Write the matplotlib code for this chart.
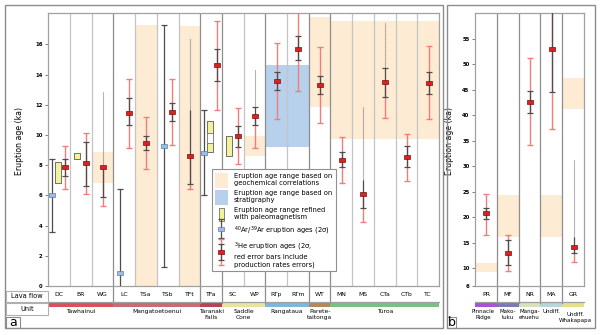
import numpy as np
import matplotlib
matplotlib.use('Agg')
import matplotlib.pyplot as plt
from matplotlib.patches import Rectangle, Patch
from matplotlib.path import Path
from matplotlib.legend_handler import HandlerErrorbar, HandlerPatch

nan = np.nan

# ---------------- panel a data
flows_a = ['DC', 'BR', 'WG', 'LC', 'TSa', 'TSb', 'TFt', 'TFa', 'SC', 'WP',
           'RTp', 'RTm', 'WT', 'MN', 'MS', 'CTa', 'CTb', 'TC']
unit_names_a = ['Tawhainui', 'Mangatoetoenui', 'Taranaki\nFalls', 'Saddle\nCone',
                'Rangataua', 'Parete-\ntaitonga', 'Turoa']
unit_sizes_a = [3, 4, 1, 2, 2, 1, 5]
unit_colors_a = ['#d9515d', '#c86b77', '#b44556', '#e8e49f', '#7db8d9', '#b08a5a', '#7cbf86']

# 3He ages: value, black 2s bar, red bar (with production rate errors), dotted extension
he_age_a = [7.86, 8.13, 7.86, 11.48, 9.45, 11.54, 8.6, 14.61, 9.91, 11.28,
            13.56, 15.72, 13.31, 8.34, 6.11, 13.53, 8.56, 13.42]
he_lo_a = [7.28, 6.6, 5.87, 10.64, 8.98, 10.93, 6.73, 13.6, 9.22, 10.66,
           12.98, 14.95, 12.7, 7.9, 5.16, 12.5, 7.86, 12.7]
he_hi_a = [8.43, 9.54, 7.86, 12.43, 9.95, 12.14, 11.65, 15.67, 10.57, 11.87,
           14.15, 16.54, 13.9, 8.85, 7.02, 14.42, 9.29, 14.15]
he_hicap_a = [1, 1, 0, 1, 1, 1, 0, 1, 1, 1, 1, 1, 1, 1, 0, 1, 1, 1]
he_rlo_a = [6.4, 6.1, 5.32, 9.12, 7.73, 9.31, 6.44, 11.66, 8.06, 9.12,
            11.06, 12.93, 10.77, 6.8, 4.22, 11.1, 6.97, 11.04]
he_rhi_a = [9.29, 10.15, nan, 13.73, 11.19, 13.73, nan, 17.57, 11.77, nan,
            16.07, 18.6, 15.85, 9.89, nan, nan, 10.05, 15.89]
he_dot_a = [nan, nan, 12.85, nan, nan, nan, 16.4, nan, nan, 14.35,
            nan, nan, nan, nan, 11.83, 17.44, nan, nan]

ar_flow_a = ['DC', 'LC', 'TSb', 'TFa']
ar_age_a = [6.03, 0.88, 9.27, 8.83]
ar_lo_a = [3.55, -4.6, 1.28, 6.03]
ar_hi_a = [8.39, 6.4, 17.28, 11.63]

pm_flow_a = ['DC', 'BR', 'TFa', 'TFa', 'SC']
pm_lo_a = [6.84, 8.44, 8.9, 10.13, 8.6]
pm_hi_a = [8.23, 8.79, 9.5, 10.9, 9.93]

geo_from_a = ['WG', 'TSa', 'TFt', 'WP', 'WT', 'MN']
geo_to_a = ['WG', 'TSa', 'TFt', 'WP', 'WT', 'TC']
geo_lo_a = [6.85, 0, 0, 8.6, 11.85, 9.71]
geo_hi_a = [8.85, 17.28, 17.24, 9.93, 17.8, 17.57]

strat_from_a = ['RTp']
strat_to_a = ['RTm']
strat_lo_a = [9.22]
strat_hi_a = [14.64]

# ---------------- panel b data
flows_b = ['PR', 'MF', 'NR', 'MA', 'GR']
unit_names_b = ['Pinnacle\nRidge', 'Mako-\ntuku', 'Manga-\nehuehu', 'Undiff.', 'Undiff.\nWhakapapa']
unit_sizes_b = [1, 1, 1, 1, 1]
unit_colors_b = ['#a852d6', '#7f79b1', '#d6e2be', '#b8d5da', '#e6e08d']

he_age_b = [20.76, 13.06, 42.6, 52.86, 14.2]
he_lo_b = [19.6, 10.59, 40.33, 44.56, 12.9]
he_hi_b = [21.86, 15.48, 44.75, 61.5, 16.2]
he_hicap_b = [1, 1, 1, 1, 0]
he_rlo_b = [16.58, 9.47, 34.07, 37.2, 11.27]
he_rhi_b = [24.48, 16.47, 51.2, 68.0, nan]
he_dot_b = [nan, nan, nan, nan, 31.2]

geo_from_b = ['PR', 'MF', 'MA', 'GR']
geo_to_b = ['PR', 'MF', 'MA', 'GR']
geo_lo_b = [9.33, 16.2, 16.2, 41.1]
geo_hi_b = [11.1, 24.3, 24.3, 47.3]

yticks_a = [0, 2, 4, 6, 8, 10, 12, 14, 16]
yticks_b = [6.5, 10, 15, 20, 25, 30, 35, 40, 45, 50, 55]
yticklabels_b = ['6', '10', '15', '20', '25', '30', '35', '40', '45', '50', '55']

# ---------------- styles
BEIGE = '#fdebd3'
STRAT = '#b7d0eb'
YEL = '#f2f29a'
RED_BAR = '#f27c7c'
BLK_BAR = '#4d4d4d'
GRID = '#c4c4c4'
BOUND = '#8e8e8e'
SPINE = '#a0a0a0'

rect_marker = Path([(-1.5, -1), (1.5, -1), (1.5, 1), (-1.5, 1), (-1.5, -1)],
                   [Path.MOVETO, Path.LINETO, Path.LINETO, Path.LINETO, Path.CLOSEPOLY])

W, H = 600, 335
fig = plt.figure(figsize=(6, 3.35), dpi=100)


def fx(px):
    return px / W


def fy(py):
    return 1 - py / H


def fig_box(x0, y0, x1, y1, **kw):
    fig.add_artist(Rectangle((fx(x0), fy(y1)), fx(x1) - fx(x0), fy(y0) - fy(y1),
                             transform=fig.transFigure, fill=False, **kw))


ax_a = fig.add_axes([fx(48.3), fy(286), fx(439) - fx(48.3), fy(13) - fy(286)])
ax_b = fig.add_axes([fx(475), fy(286), fx(584) - fx(475), fy(13) - fy(286)])

# fractions of axes height used by the table below the plot
ROW_Y = -0.031
ROW_BOT = -0.0575
BAND_TOP = -0.061
BAND_H = 0.017
NAME_Y = -0.083


def draw_panel(ax, flows, unit_names, unit_sizes, unit_colors,
               he_age, he_lo, he_hi, he_hicap, he_rlo, he_rhi, he_dot,
               ar_flow, ar_age, ar_lo, ar_hi, pm_flow, pm_lo, pm_hi,
               geo_from, geo_to, geo_lo, geo_hi,
               strat_from, strat_to, strat_lo, strat_hi,
               name_size=4.3, name_shift=None):
    n = len(flows)
    idx = {f: i for i, f in enumerate(flows)}
    tr = ax.get_xaxis_transform()
    if name_shift is None:
        name_shift = [(0, 0)] * len(unit_names)

    # slot positions inside each column (Ar, paleomag box, He)
    slots = {}
    for i, f in enumerate(flows):
        items = [k for k, s in (('ar', ar_flow), ('pm', pm_flow)) if f in s] + ['he']
        offs = {1: [0.02], 2: [-0.18, 0.22], 3: [-0.33, -0.04, 0.28]}[len(items)]
        for k, o in zip(items, offs):
            slots[(f, k)] = i + o

    # age ranges
    for f0, f1, lo, hi in zip(geo_from, geo_to, geo_lo, geo_hi):
        ax.add_patch(Rectangle((idx[f0] - 0.5, lo), idx[f1] - idx[f0] + 1, hi - lo,
                               facecolor=BEIGE, edgecolor='none', zorder=0.5))
    for f0, f1, lo, hi in zip(strat_from, strat_to, strat_lo, strat_hi):
        ax.add_patch(Rectangle((idx[f0] - 0.5, lo), idx[f1] - idx[f0] + 1, hi - lo,
                               facecolor=STRAT, edgecolor='none', zorder=0.5))

    # column separators and unit boundaries
    bounds = np.cumsum(unit_sizes)[:-1] - 0.5
    for i in range(n - 1):
        b = i + 0.5
        ax.axvline(b, color=BOUND if b in bounds else GRID, lw=0.9, zorder=1)
    for b in bounds:
        ax.plot([b, b], [0, BAND_TOP], transform=tr, clip_on=False, color=BOUND, lw=0.9)

    # 3He ages
    xh = np.array([slots[(f, 'he')] for f in flows])
    he_age = np.array(he_age)
    he_hicap = np.array(he_hicap, bool)
    rhi = np.where(np.isnan(he_rhi), he_age, he_rhi)
    dot = np.array(he_dot)
    has_dot = ~np.isnan(dot)
    ax.vlines(xh[has_dot], np.array(he_hi)[has_dot], dot[has_dot], colors='#7a7a7a',
              lw=0.8, linestyles=(0, (1, 0.8)), zorder=2)
    ax.vlines(xh, he_rlo, rhi, colors=RED_BAR, lw=1.0, zorder=3)
    ax.plot(xh, he_rlo, ls='none', marker='_', ms=4.2, mew=1.0, color=RED_BAR, zorder=3)
    has_rhi = ~np.isnan(he_rhi)
    ax.plot(xh[has_rhi], np.array(he_rhi)[has_rhi], ls='none', marker='_', ms=4.2,
            mew=1.0, color=RED_BAR, zorder=3)
    ax.vlines(xh, he_lo, he_hi, colors=BLK_BAR, lw=0.9, zorder=4)
    ax.plot(xh, he_lo, ls='none', marker='_', ms=4, mew=0.9, color=BLK_BAR, zorder=4)
    ax.plot(xh[he_hicap], np.array(he_hi)[he_hicap], ls='none', marker='_', ms=4,
            mew=0.9, color=BLK_BAR, zorder=4)
    he_mark = ax.plot(xh, he_age, ls='none', marker=rect_marker, ms=4.6,
                      mfc='#dd2020', mec='#7a1010', mew=0.5, zorder=6)[0]

    # 40Ar/39Ar ages
    ar_mark = None
    if ar_flow:
        xa = np.array([slots[(f, 'ar')] for f in ar_flow])
        ax.vlines(xa, ar_lo, ar_hi, colors=BLK_BAR, lw=0.9, zorder=4)
        ax.plot(np.r_[xa, xa], np.r_[ar_lo, ar_hi], ls='none', marker='_', ms=4,
                mew=0.9, color=BLK_BAR, zorder=4)
        ar_mark = ax.plot(xa, ar_age, ls='none', marker=rect_marker, ms=4.4,
                          mfc='#9dbce3', mec='#5f7fab', mew=0.5, zorder=6)[0]

    # paleomagnetism refined ranges
    for f, lo, hi in zip(pm_flow, pm_lo, pm_hi):
        ax.add_patch(Rectangle((slots[(f, 'pm')] - 0.13, lo), 0.26, hi - lo,
                               facecolor=YEL, edgecolor='#707070', lw=0.6, zorder=5))
    for f in set(pm_flow):
        los = [lo for g, lo in zip(pm_flow, pm_lo) if g == f]
        his = [hi for g, hi in zip(pm_flow, pm_hi) if g == f]
        ax.add_patch(Rectangle((slots[(f, 'pm')] - 0.13, min(los)), 0.26,
                               max(his) - min(los), fill=False,
                               edgecolor='#707070', lw=0.6, zorder=5))

    # table below: lava flow row, unit band, unit names
    for i, f in enumerate(flows):
        ax.text(i, ROW_Y, f, transform=tr, ha='center', va='center', fontsize=4.4)
    ax.plot([-0.5, n - 0.5], [ROW_BOT, ROW_BOT], transform=tr, clip_on=False,
            color=SPINE, lw=0.9)
    start = 0
    for name, size, col, (dx, dy) in zip(unit_names, unit_sizes, unit_colors, name_shift):
        ax.add_patch(Rectangle((start - 0.5, BAND_TOP - BAND_H), size, BAND_H,
                               transform=tr, clip_on=False, facecolor=col,
                               edgecolor='none'))
        ax.text(start - 0.5 + size / 2 + dx, NAME_Y + dy, name, transform=tr,
                ha='center', va='top', fontsize=name_size, linespacing=1.25)
        start += size

    ax.set_xlim(-0.5, n - 0.5)
    ax.set_xticks([])
    for s in ax.spines.values():
        s.set_color(SPINE)
        s.set_linewidth(0.9)
    ax.tick_params(axis='y', length=2.5, width=0.7, color='#808080', pad=1.5,
                   labelsize=3.8)
    return he_mark, ar_mark


he_mark, ar_mark = draw_panel(
    ax_a, flows_a, unit_names_a, unit_sizes_a, unit_colors_a,
    he_age_a, he_lo_a, he_hi_a, he_hicap_a, he_rlo_a, he_rhi_a, he_dot_a,
    ar_flow_a, ar_age_a, ar_lo_a, ar_hi_a, pm_flow_a, pm_lo_a, pm_hi_a,
    geo_from_a, geo_to_a, geo_lo_a, geo_hi_a,
    strat_from_a, strat_to_a, strat_lo_a, strat_hi_a)

draw_panel(
    ax_b, flows_b, unit_names_b, unit_sizes_b, unit_colors_b,
    he_age_b, he_lo_b, he_hi_b, he_hicap_b, he_rlo_b, he_rhi_b, he_dot_b,
    [], [], [], [], [], [], [],
    geo_from_b, geo_to_b, geo_lo_b, geo_hi_b, [], [], [], [],
    name_size=4.0, name_shift=[(-0.12, 0), (0, 0), (0, 0), (0, 0), (0.1, -0.012)])

ax_a.set_ylim(0, 18.08)
ax_a.set_yticks(yticks_a)
ax_b.set_ylim(6.5, 60)
ax_b.set_yticks(yticks_b)
ax_b.set_yticklabels(yticklabels_b)
for ax, lx in ((ax_a, -0.062), (ax_b, -0.19)):
    for t in ax.get_yticklabels():
        t.set_fontweight('bold')
    ax.set_ylabel('Eruption age (ka)', fontsize=5.6)
    ax.yaxis.set_label_coords(lx, 0.53)

# ---------------- legend
ar_proxy = ax_a.errorbar([nan], [nan], yerr=[[1], [1]], fmt='none', ecolor=BLK_BAR,
                         elinewidth=0.9, capsize=2, capthick=0.9)
red_proxy = ax_a.errorbar([nan], [nan], yerr=[[1], [1]], fmt='none', ecolor=RED_BAR,
                          elinewidth=1.0, capsize=2.1, capthick=1.0)
blk_proxy = ax_a.errorbar([nan], [nan], yerr=[[1], [1]], fmt='none', ecolor=BLK_BAR,
                          elinewidth=0.9, capsize=2, capthick=0.9)
h_geo = Patch(facecolor=BEIGE, edgecolor='none')
h_strat = Patch(facecolor=STRAT, edgecolor='none')
h_pm = Patch(facecolor=YEL, edgecolor='#707070', lw=0.6)


def narrow_box(legend, orig_handle, xdescent, ydescent, width, height, fontsize):
    return Rectangle((-xdescent + 0.32 * width, -ydescent + 0.05 * height),
                     0.36 * width, 0.9 * height)


leg = ax_a.legend(
    [h_geo, h_strat, h_pm, (ar_proxy, ar_mark), (red_proxy, blk_proxy, he_mark)],
    ['Eruption age range based on\ngeochemical correlations',
     'Eruption age range based on\nstratigraphy',
     'Eruption age range refined\nwith paleomagnetism',
     '$^{40}$Ar/$^{39}$Ar eruption ages (2σ)',
     '$^{3}$He eruption ages (2σ,\nred error bars include\nproduction rates errors)'],
    handler_map={ar_proxy: HandlerErrorbar(yerr_size=1.45),
                 red_proxy: HandlerErrorbar(yerr_size=1.85),
                 blk_proxy: HandlerErrorbar(yerr_size=1.15),
                 h_pm: HandlerPatch(patch_func=narrow_box)},
    loc='lower left', bbox_to_anchor=(0.418, 0.055), borderaxespad=0,
    fontsize=4.9, handlelength=1.9, handleheight=3.0, labelspacing=0.3,
    handletextpad=0.9, borderpad=0.5, fancybox=False, framealpha=1,
    edgecolor='#909090')
leg.get_frame().set_linewidth(0.8)
leg.set_zorder(10)

# ---------------- frames and side boxes
fig_box(4.7, 5.3, 442.7, 327.8, ec='#8c8c8c', lw=1.0)
fig_box(447.3, 5.3, 594.7, 328.3, ec='#8c8c8c', lw=1.0)
fig_box(6, 291, 48.3, 302.3, ec='#b0b0b0', lw=0.8)
fig_box(6, 302.7, 48.3, 315, ec='#b0b0b0', lw=0.8)
fig_box(6, 316.7, 20, 328.3, ec='#8c8c8c', lw=0.8)
fig_box(447.3, 316.7, 455.5, 328.3, ec='#8c8c8c', lw=0.8)
fig.text(fx(27), fy(296.5), 'Lava flow', ha='center', va='center', fontsize=4.8)
fig.text(fx(27), fy(309), 'Unit', ha='center', va='center', fontsize=4.8)
fig.text(fx(13), fy(322.5), 'a', ha='center', va='center', fontsize=9)
fig.text(fx(451.4), fy(322.5), 'b', ha='center', va='center', fontsize=9)

fig.savefig('out.png', dpi=100)
